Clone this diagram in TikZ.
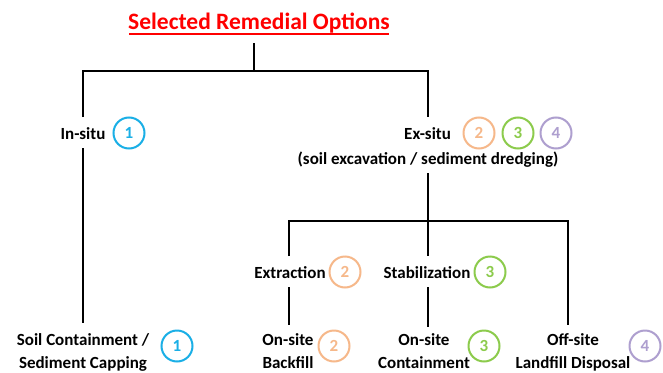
\documentclass[tikz,border=0pt]{standalone}
\usepackage{fontspec}
\setmainfont{Carlito}
\definecolor{cblue}{HTML}{1AAFE6}
\definecolor{corange}{HTML}{F6B88A}
\definecolor{cgreen}{HTML}{8CCB4C}
\definecolor{cpurple}{HTML}{AE9FCF}
\definecolor{cred}{HTML}{FF0000}
\begin{document}
\begin{tikzpicture}[x=1pt,y=-1pt,
  lbl/.style={font=\fontsize{17}{23}\selectfont\bfseries, inner sep=0pt, align=center},
  num/.style={circle, draw=#1, line width=2pt, text=#1, minimum size=31pt, inner sep=0pt, font=\fontsize{17}{20}\selectfont\bfseries},
  tree/.style={line width=1.6pt, black}]
\useasboundingbox[fill=white] (0,0) rectangle (663,372);
% title
\node[font=\fontsize{23.5}{26}\selectfont\bfseries, text=cred, inner sep=0pt] (title) at (259,23) {Selected Remedial Options};
\coordinate (u1) at (129,34);
\coordinate (u2) at (389,34);
\draw[cred, line width=1.8pt] (u1) -- (u2);
% level 1
\node[lbl] (insitu) at (83,134) {In-situ};
\node[num=cblue] (c1a) at (129,133) {1};
\node[lbl, anchor=west] (exsitu) at (404,134) {Ex-situ};
\node[num=corange] (c2a) at (479,133) {2};
\node[num=cgreen] (c3a) at (518,133) {3};
\node[num=cpurple] (c4a) at (556,133) {4};
\node[lbl] (exsub) at (428,160) {(soil excavation / sediment dredging)};
% level 2
\node[lbl] (extr) at (290,273) {Extraction};
\node[num=corange] (c2b) at (345,272) {2};
\node[lbl] (stab) at (427,273) {Stabilization};
\node[num=cgreen] (c3b) at (490,272) {3};
% level 3
\node[lbl] (soil) at (83,352) {Soil Containment /\\Sediment Capping};
\node[num=cblue] (c1b) at (177,346) {1};
\node[lbl] (backfill) at (288,351) {On-site\\Backfill};
\node[num=corange] (c2c) at (334,346) {2};
\node[lbl] (contain) at (424,351) {On-site\\Containment};
\node[num=cgreen] (c3c) at (484,346) {3};
\node[lbl] (landfill) at (573,352) {Off-site\\Landfill Disposal};
\node[num=cpurple] (c4b) at (645,346) {4};
% tree coordinates
\coordinate (t0) at (254,43);
\coordinate (j0) at (254,71);
\coordinate (jl) at (83,71);
\coordinate (jr) at (428,71);
\coordinate (il) at (83,117);
\coordinate (ir) at (428,117);
\coordinate (l1) at (83,148);
\coordinate (l2) at (83,323);
\coordinate (r1) at (428,173);
\coordinate (r2) at (428,221);
\coordinate (ha) at (289,221);
\coordinate (hb) at (568,221);
\coordinate (a1) at (289,256);
\coordinate (b1) at (428,256);
\coordinate (c1) at (568,325);
\coordinate (a2) at (289,287);
\coordinate (a3) at (289,325);
\coordinate (b2) at (428,287);
\coordinate (b3) at (428,327);
\draw[tree] (t0) -- (j0);
\draw[tree] (il) -- (jl) -- (jr) -- (ir);
\draw[tree] (l1) -- (l2);
\draw[tree] (r1) -- (r2);
\draw[tree] (a1) -- (ha) -- (hb) -- (c1);
\draw[tree] (r2) -- (b1);
\draw[tree] (a2) -- (a3);
\draw[tree] (b2) -- (b3);
\end{tikzpicture}
\end{document}
